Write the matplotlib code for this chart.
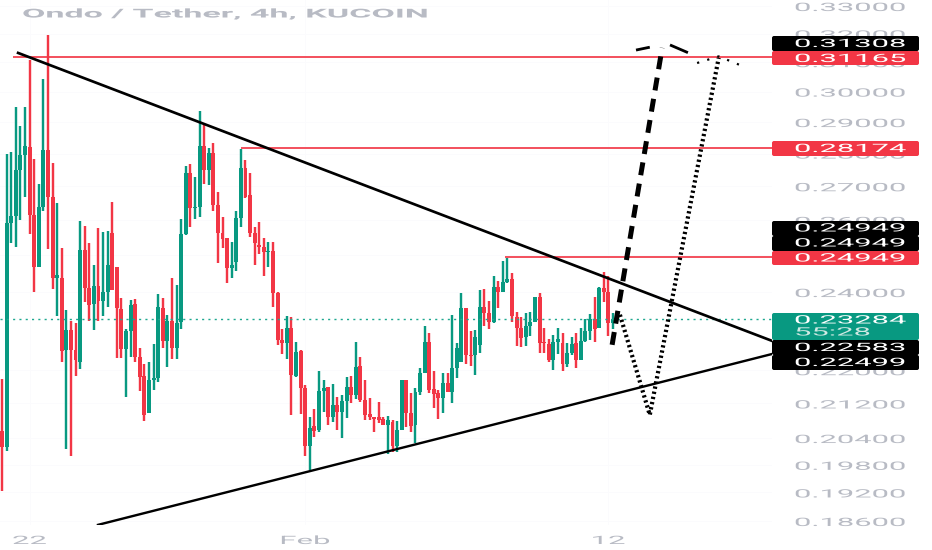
import matplotlib
matplotlib.use("Agg")
import matplotlib.pyplot as plt
from matplotlib.patches import FancyBboxPatch
from matplotlib.patheffects import AbstractPathEffect
from matplotlib.ticker import NullLocator
from matplotlib.transforms import Affine2D

# ---------- data ----------
title = "Ondo / Tether, 4h, KUCOIN"
directions = ("r ggggg rr gg rr g r g rr g rr g r gg rrr gg rrr ggg r g r ggg r gg r g rrrr ggg rrrrr g rrr g r g rr g r gg "
              "r g r gg r g rrrrrr g r gg rr ggg rrr g r ggg rr gg rr g r gg rrr ggg rrr gg r gg r ggg r g rr g").replace(" ", "")
highs = [.2179,.2799,.2805,.2950,.2886,.2950,.3108,.2784,.2708,.3044,.3195,.2771,.2650,.2521,.2353,.2323,.2318,.2598,.2584,.2535,
         .2474,.2578,.2567,.2570,.2653,.2469,.2385,.2302,.2379,.2382,.2255,.2214,.2221,.2266,.2396,.2385,.2340,.2439,.2420,.2604,
         .2762,.2768,.2729,.2936,.2892,.2817,.2833,.2683,.2610,.2550,.2538,.2627,.2814,.2781,.2741,.2581,.2596,.2550,.2538,.2538,
         .2401,.2302,.2338,.2333,.2271,.2250,.2165,.2089,.2107,.2199,.2177,.2160,.2167,.2135,.2140,.2184,.2187,.2271,.2233,.2177,
         .2133,.2089,.2123,.2089,.2091,.2082,.2080,.2177,.2177,.2145,.2157,.2206,.2310,.2294,.2197,.2152,.2192,.2194,.2340,.2268,
         .2398,.2358,.2297,.2300,.2406,.2409,.2377,.2442,.2431,.2485,.2493,.2452,.2348,.2335,.2345,.2348,.2387,.2398,.2305,.2279,
         .2289,.2305,.2292,.2268,.2284,.2292,.2305,.2330,.2343,.2387,.2414,.2455,.2442,.2345]
body_top = [.2057,.2593,.2613,.2750,.2796,.2824,.2821,.2616,.2639,.2811,.2811,.2668,.2447,.2439,.2300,.2300,.2250,.2515,.2515,.2411,
            .2417,.2417,.2401,.2474,.2564,.2469,.2356,.2297,.2366,.2369,.2233,.2187,.2177,.2182,.2361,.2358,.2325,.2325,.2318,.2561,
            .2741,.2741,.2639,.2824,.2824,.2802,.2802,.2645,.2564,.2550,.2474,.2607,.2756,.2756,.2674,.2564,.2529,.2524,.2512,.2512,
            .2398,.2276,.2307,.2307,.2245,.2248,.2157,.2063,.2068,.2150,.2157,.2160,.2116,.2116,.2126,.2160,.2160,.2209,.2211,.2128,
            .2096,.2089,.2089,.2084,.2082,.2077,.2059,.2175,.2175,.2098,.2148,.2194,.2271,.2271,.2155,.2145,.2170,.2170,.2206,.2255,
            .2358,.2358,.2238,.2284,.2361,.2361,.2345,.2414,.2414,.2428,.2436,.2436,.2333,.2307,.2310,.2320,.2387,.2387,.2271,.2266,
            .2271,.2279,.2268,.2243,.2266,.2268,.2273,.2297,.2328,.2328,.2411,.2411,.2401,.2328]
body_bottom = [.2020,.2020,.2593,.2613,.2750,.2796,.2616,.2469,.2469,.2639,.2668,.2439,.2439,.2248,.2250,.2250,.2224,.2221,.2411,.2366,
               .2369,.2377,.2377,.2401,.2406,.2358,.2253,.2253,.2297,.2233,.2184,.2093,.2098,.2177,.2182,.2273,.2273,.2255,.2255,.2320,
               .2561,.2636,.2636,.2639,.2750,.2750,.2645,.2564,.2547,.2466,.2466,.2482,.2607,.2668,.2564,.2535,.2524,.2509,.2509,.2398,
               .2276,.2268,.2268,.2189,.2187,.2157,.2022,.2022,.2057,.2059,.2150,.2089,.2089,.2100,.2100,.2126,.2140,.2140,.2128,.2093,
               .2089,.2084,.2082,.2070,.2070,.2022,.2022,.2059,.2098,.2068,.2070,.2148,.2194,.2152,.2143,.2133,.2133,.2148,.2148,.2206,
               .2219,.2238,.2236,.2238,.2263,.2345,.2320,.2320,.2401,.2401,.2428,.2338,.2307,.2281,.2284,.2312,.2320,.2268,.2268,.2224,
               .2224,.2271,.2214,.2214,.2243,.2224,.2226,.2273,.2297,.2302,.2307,.2401,.2318,.2318]
lows = [.1924,.2011,.2535,.2524,.2601,.2668,.2561,.2401,.2469,.2627,.2518,.2409,.2338,.2219,.2015,.2000,.2187,.2204,.2374,.2323,
        .2300,.2323,.2338,.2361,.2406,.2231,.2231,.2135,.2233,.2219,.2150,.2080,.2098,.2152,.2172,.2255,.2209,.2228,.2228,.2302,
        .2558,.2579,.2604,.2610,.2708,.2705,.2627,.2480,.2521,.2425,.2439,.2458,.2581,.2665,.2552,.2474,.2504,.2442,.2469,.2361,
        .2263,.2240,.2228,.2093,.2184,.2096,.2000,.1968,.2043,.2054,.2100,.2070,.2077,.2059,.2040,.2086,.2121,.2131,.2123,.2082,
        .2082,.2054,.2075,.2070,.2004,.2009,.2009,.2059,.2066,.2054,.2029,.2140,.2192,.2145,.2109,.2084,.2098,.2148,.2121,.2182,
        .2219,.2216,.2211,.2189,.2243,.2310,.2302,.2318,.2358,.2401,.2425,.2320,.2261,.2258,.2261,.2286,.2320,.2243,.2243,.2221,
        .2201,.2240,.2199,.2209,.2238,.2206,.2224,.2271,.2276,.2271,.2307,.2374,.2286,.2302]

price_ticks = [.33, .32, .31, .30, .29, .28, .27, .26, .25, .24, .22, .212, .204, .198, .192, .186]
price_tick_labels = ["0.33000", "0.32000", "0.31000", "0.30000", "0.29000", "0.28000", "0.27000", "0.26000",
                     "0.25000", "0.24000", "0.22000", "0.21200", "0.20400", "0.19800", "0.19200", "0.18600"]
time_ticks = [6, 66, 132]
time_labels = ["22", "Feb", "12"]

last_price = 0.23284
level_starts = [2.4, 52, 109.5]
level_prices = [0.31165, 0.28174, 0.24949]
upper_trend_x = [3.5, 167.6]
upper_trend_y = [0.3132, 0.2273]
lower_trend_x = [20.9, 167.6]
lower_trend_y = [0.1852, 0.2240]
dash_path_x = [132.8, 143.7]
dash_path_y = [0.2263, 0.3150]
dash_left_wing_x = [138.0, 141.0]
dash_left_wing_y = [0.3142, 0.3152]
dash_right_wing_x = [145.4, 149.3]
dash_right_wing_y = [0.3160, 0.3133]
dot_path_x = [134.5, 141.0, 156.0]
dot_path_y = [0.2340, 0.2093, 0.3115]
dot_wing_x = [151.3, 156.0, 161.1]
dot_wing_y = [0.3097, 0.3120, 0.3087]

badge_texts = ["0.31308", "0.31165", "0.28174", "0.24949", "0.24949", "0.24949", "0.23284", "0.22583", "0.22499"]
badge_kinds = ["k", "r", "r", "k", "k", "r", "g", "k", "k"]

# ---------- style ----------
GREEN, RED = "#089981", "#F23645"
GREY = "#B8BBC4"
PX = 72 / 100


class Stretch(AbstractPathEffect):
    """Widen a text horizontally, as the reference screenshot is widened."""

    def __init__(self, sx, centered=False):
        super().__init__()
        self.sx, self.centered = sx, centered

    def draw_path(self, renderer, gc, tpath, affine, rgbFace=None):
        cx = 0
        if self.centered:
            e = tpath.get_extents()
            cx = (e.x0 + e.x1) / 2
        t = Affine2D().translate(-cx, 0).scale(self.sx, 1).translate(cx, 0)
        renderer.draw_path(gc, tpath, t + affine, rgbFace)


plt.rcParams["font.family"] = ["Roboto", "DejaVu Sans"]
W, H = 932, 550
fig = plt.figure(figsize=(W / 100, H / 100), dpi=100, facecolor="white")
ax = fig.add_axes([0, 25 / H, 772 / W, 525 / H])
ax.set_yscale("log")
ax.set_xlim(-0.435, 167.6)
ax.set_ylim(0.18517, 0.33221)
for s in ax.spines.values():
    s.set_visible(False)

ax.yaxis.tick_right()
ax.set_yticks(price_ticks, price_tick_labels)
ax.yaxis.set_minor_locator(NullLocator())
ax.set_xticks(time_ticks, time_labels)
ax.tick_params(axis="both", length=0, labelcolor=GREY)
ax.tick_params(axis="y", labelsize=8.3, pad=22 * PX)
ax.tick_params(axis="x", labelsize=8.3, pad=9 * PX)
for lab in ax.get_yticklabels():
    lab.set_path_effects([Stretch(2.68)])
for lab in ax.get_xticklabels():
    lab.set_path_effects([Stretch(2.7, centered=True)])
ax.grid(True, color="#FBFBFD", lw=0.7, zorder=0)
ax.set_axisbelow(True)

for i, d in enumerate(directions):
    c = GREEN if d == "g" else RED
    ax.vlines(i, lows[i], highs[i], color=c, lw=2.4 * PX, zorder=2)
    ax.bar(i, body_top[i] - body_bottom[i], bottom=body_bottom[i], width=0.86, color=c, lw=0, zorder=2)

ax.axhline(last_price, color="#1FA890", lw=1.4 * PX, ls=(0, (1.5, 3.0)), zorder=3)
for x0, p in zip(level_starts, level_prices):
    ax.plot([x0, 167.6], [p, p], color=RED, lw=1.7 * PX, zorder=3, solid_capstyle="butt")
ax.plot(upper_trend_x, upper_trend_y, color="black", lw=2.7 * PX, zorder=4)
ax.plot(lower_trend_x, lower_trend_y, color="black", lw=2.4 * PX, zorder=4)
ax.plot(dash_path_x, dash_path_y, color="black", lw=5.0 * PX, ls=(0, (2.6, 1.7)), zorder=5)
ax.plot(dash_left_wing_x, dash_left_wing_y, color="black", lw=2.8 * PX, zorder=5, solid_capstyle="butt")
ax.plot(dash_right_wing_x, dash_right_wing_y, color="black", lw=2.8 * PX, zorder=5, solid_capstyle="butt")
ax.plot(dot_path_x, dot_path_y, color="black", lw=4.2 * PX, ls=(0, (0.55, 0.7)), zorder=5)
ax.plot(dot_wing_x, dot_wing_y, color="black", lw=2.2 * PX, ls=(0, (1.0, 3.8)), zorder=5)

ax.text(22 / 772, 1 - 14 / 525, title, transform=ax.transAxes, color=GREY, fontsize=8.8, fontweight="bold",
        ha="left", va="center", path_effects=[Stretch(2.78)], zorder=6)

# ---------- stacked price tags ----------
tag = fig.add_axes([0, 0, 1, 1], facecolor="none")
tag.set_xlim(0, W)
tag.set_ylim(H, 0)
tag.axis("off")
kind_colors = {"k": "#000000", "r": RED, "g": GREEN}
tag_boxes = [(36, 51), (51, 65), (141, 156), (221, 236), (236, 251), (251, 265), (313, 340), (340, 355), (355, 370)]
text_rows = [43.5, 58.5, 148.5, 228, 243, 258, 320, 347.5, 362.5]
for txt, kind, (y0, y1), yt in zip(badge_texts, badge_kinds, tag_boxes, text_rows):
    tag.add_patch(FancyBboxPatch((772, y0), 147, y1 - y0, boxstyle="round,pad=0,rounding_size=2",
                                 fc=kind_colors[kind], ec="none", zorder=2))
    tag.text(794, yt, txt, color="white", fontsize=8.3, ha="left", va="center",
             path_effects=[Stretch(2.68)], zorder=3)
tag.text(794, 332, "55:28", color="#CFE9E3", fontsize=8.3, ha="left", va="center",
         path_effects=[Stretch(2.68)], zorder=3)

fig.savefig("out.png", dpi=100, facecolor="white")
